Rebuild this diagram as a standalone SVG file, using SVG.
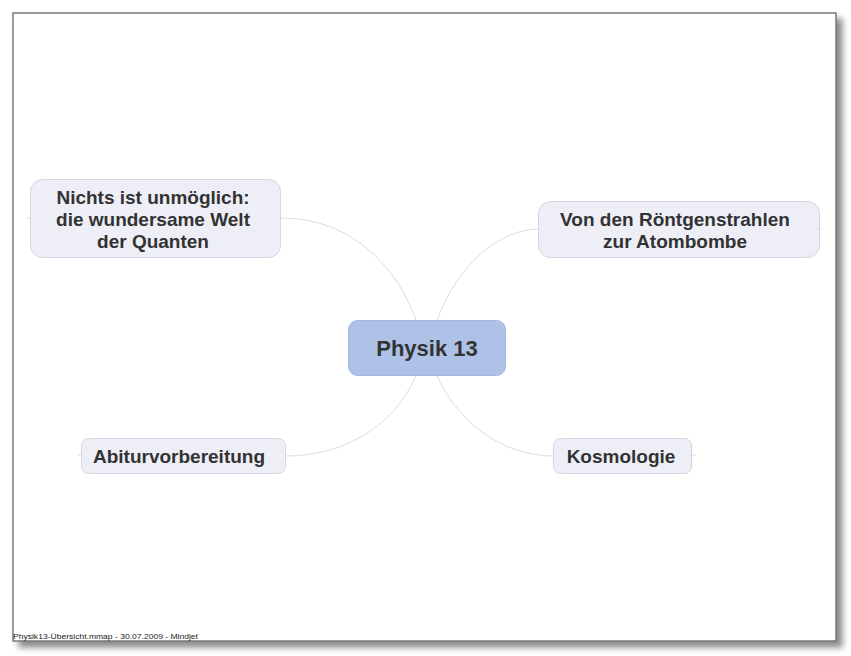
<svg xmlns="http://www.w3.org/2000/svg" width="851" height="656" viewBox="0 0 851 656">
<defs>
<filter id="sh" x="-5%" y="-5%" width="115%" height="115%">
<feGaussianBlur in="SourceAlpha" stdDeviation="3"/>
<feOffset dx="6" dy="6" result="b"/>
<feComponentTransfer><feFuncA type="linear" slope="0.45"/></feComponentTransfer>
<feMerge><feMergeNode/><feMergeNode in="SourceGraphic"/></feMerge>
</filter>
<style>
.t{font-family:"Liberation Sans",Arial,Helvetica,sans-serif;font-weight:bold;fill:#333;text-anchor:middle}
.sub{fill:#eeeef7;stroke:#d6d6e2;stroke-width:1}
.c{fill:none;stroke:#dcdcdc;stroke-width:1}
</style>
</defs>
<rect width="851" height="656" fill="#fff"/>
<rect x="13" y="13" width="823" height="628" fill="#fff" stroke="#666" stroke-width="1.3" filter="url(#sh)"/>
<g id="connectors">
<path class="c" d="M416,320 C396,265 350,218 281,218"/>
<path class="c" d="M437,320 C458,264 500,229 539,229"/>
<path class="c" d="M416,376 C392,430 340,456 286,456"/>
<path class="c" d="M437,376 C462,430 510,456 553,456"/>
<path class="c" d="M27,218 H30"/>
<path class="c" d="M819,229 H822"/>
<path class="c" d="M78,455 H82"/>
<path class="c" d="M692,455 H696"/>
</g>
<g id="center">
<rect x="348.5" y="320.5" width="157" height="55" rx="9" fill="#adc2e6" stroke="#a3b8dc"/>
<text class="t" x="427" y="356" font-size="22">Physik 13</text>
</g>
<g id="quanten">
<rect class="sub" x="30.5" y="179.5" width="250" height="78" rx="12"/>
<text class="t" x="153" y="204" font-size="19">Nichts ist unmöglich:</text>
<text class="t" x="153" y="226" font-size="19">die wundersame Welt</text>
<text class="t" x="153" y="248" font-size="19">der Quanten</text>
</g>
<g id="roentgen">
<rect class="sub" x="538.5" y="201.5" width="281" height="56" rx="12"/>
<text class="t" x="675" y="226" font-size="19">Von den Röntgenstrahlen</text>
<text class="t" x="675" y="248" font-size="19">zur Atombombe</text>
</g>
<g id="abitur">
<rect class="sub" x="81.5" y="438.5" width="204" height="35" rx="7"/>
<text class="t" x="179" y="463" font-size="19">Abiturvorbereitung</text>
</g>
<g id="kosmologie">
<rect class="sub" x="553.5" y="438.5" width="138" height="35" rx="7"/>
<text class="t" x="621" y="463" font-size="19">Kosmologie</text>
</g>
<text x="13" y="639" font-family="'Liberation Sans',Arial,sans-serif" font-size="8" fill="#222" textLength="185" lengthAdjust="spacingAndGlyphs">Physik13-Übersicht.mmap - 30.07.2009 - Mindjet</text>
</svg>
